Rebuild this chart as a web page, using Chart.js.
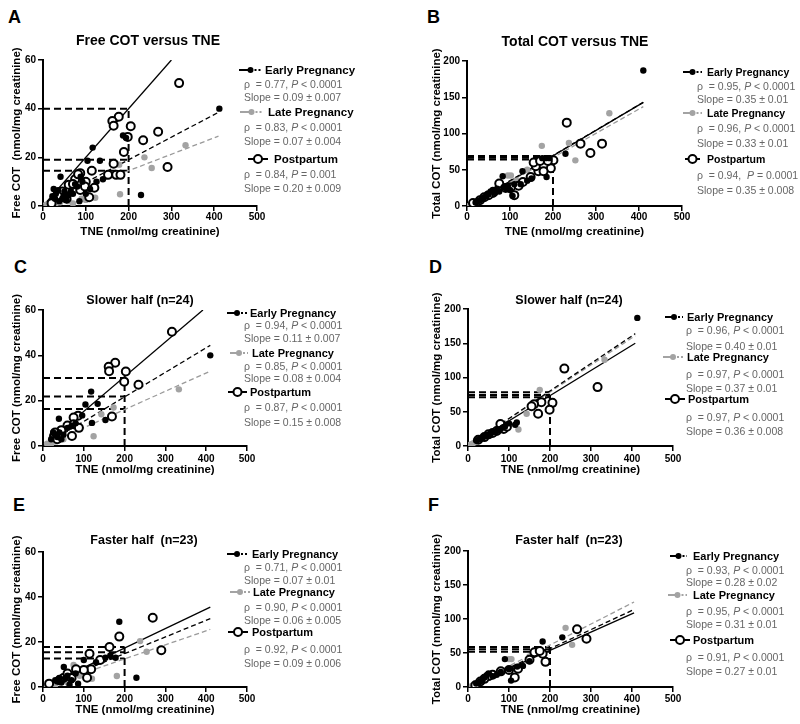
<!DOCTYPE html>
<html lang="en">
<head>
<meta charset="UTF-8">
<title>COT versus TNE</title>
<script src="https://cdn.jsdelivr.net/npm/chart.js"></script>
<style>
  body { margin: 0; background: #fff; font-family: "Liberation Sans", Arial, sans-serif; }
  #fig { position: relative; width: 800px; height: 724px; overflow: hidden; }
  .box { position: absolute; }
  .letter { position: absolute; font-size: 18px; font-weight: bold; line-height: 1; }
  .ptitle { position: absolute; font-weight: bold; white-space: pre; transform: translateX(-50%); line-height: 16px; }
  .lg { position: absolute; white-space: pre; line-height: 14px; }
  .head { font-weight: bold; color: #000; }
  .stat { font-size: 10.5px; color: #666; }
  #icons { position: absolute; left: 0; top: 0; }
</style>
</head>
<body>
<div id="fig"></div>
<script>
const FAMILY = '"Liberation Sans", Arial, sans-serif';

const groups = ['Early Pregnancy', 'Late Pregnancy', 'Postpartum'];
const xTicks = [0, 100, 200, 300, 400, 500];
const freeTicks = [0, 20, 40, 60];
const totalTicks = [0, 50, 100, 150, 200];
const tneRef = 200;

// A: free COT, all subjects
const aEarly = [[412,40],[229,4.5],[116,24],[187,29],[194,28],[133,18.6],[104,18.6],[41,12],[125,10],[92,10],[80,8],[70,5],[60,4.5],[50,6],[45,3],[38,2],[30,5],[25,7],[22,4],[35,6.5],[55,2.5],[65,6],[85,2],[100,5],[110,7],[88,12],[75,9],[28,3],[48,4],[140,11]];
const aLate = [[333,25],[237,20],[254,15.6],[180,4.8],[122,3.4],[178,17],[60,2],[40,1.5],[90,3],[70,1],[30,1],[100,2.5],[50,2.8],[8,0.5],[20,0.5]];
const aPost = [[318,50.5],[177,36.7],[162,34.9],[165,33],[205,32.8],[198,28.4],[269,30.5],[234,27],[189,22.2],[291,16],[165,17.4],[152,12.8],[171,12.8],[181,12.8],[114,14.5],[87,13.5],[108,3.6],[87,6.6],[20,1.1],[60,8.7],[100,10],[75,11],[45,6],[35,4],[55,3],[70,9],[82,13],[98,8],[120,7.5]];
const aFits = [[[0,0.4],[410,38.5]], [[0,1],[410,28.7]], [[0,0],[300,60]]];
const aRef = [40, 19, 14.5];
const aRho = ['0.77, <i>P</i> < 0.0001', '0.83, <i>P</i> < 0.0001', '0.84, <i>P</i> = 0.001'];
const aSlope = ['0.09 ± 0.007', '0.07 ± 0.004', '0.20 ± 0.009'];

// B: total COT, all subjects
const bEarly = [[410,187],[229,72],[185,40],[175,66],[183,66],[192,66],[129,48],[83,41],[106,14],[125,30],[100,22],[90,25],[75,20],[65,18],[55,20],[50,16],[45,14],[40,12],[35,10],[30,8],[25,7],[20,5],[60,22],[70,24],[110,30],[140,35],[150,38],[85,26],[95,28]];
const bLate = [[331,128],[237,87],[252,63],[174,83],[102,42],[95,42],[160,60],[140,50],[60,20],[40,12],[25,6],[10,2],[80,28],[115,35],[200,65],[5,0]];
const bPost = [[232,115],[264,86],[314,86],[287,73],[201,63],[195,52],[166,48],[178,48],[160,55],[155,60],[148,40],[110,15],[102,26],[75,31],[14,4],[170,62],[188,62],[120,28],[130,33],[90,25],[60,18],[50,15],[40,12],[30,8]];
const bFits = [[[0,0],[410,143]], [[0,0],[410,137]], [[0,-1],[410,143]]];
const bRef = [69, 66.5, 64];
const bRho = ['0.95, <i>P</i> < 0.0001', '0.96, <i>P</i> < 0.0001', '0.94,  <i>P</i> = 0.0001'];
const bSlope = ['0.35 ± 0.01', '0.33 ± 0.01', '0.35 ± 0.008'];

// C: free COT, slower half
const cEarly = [[410,40],[118,24],[104,18.3],[134,18.6],[96,13.5],[39,12],[120,10.2],[153,11.5],[30,5],[25,6],[35,4],[45,3],[50,5],[60,8],[70,9],[80,10],[20,3],[40,6]];
const cLate = [[333,25],[124,4.3],[143,14],[173,17],[20,1],[30,2],[50,3],[10,1]];
const cPost = [[316,50.4],[177,36.7],[161,35],[162,33],[203,32.9],[199,28.4],[234,27],[169,13],[86,13.4],[75,12.6],[75,9.6],[88,8],[71,4.4],[27,4.4],[35,3],[40,5],[60,9],[45,7],[30,6]];
const cFits = [[[0,0],[410,44.4]], [[0,0],[410,33]], [[0,0],[392,60]]];
const cRef = [30, 21.8, 16.3];
const cRho = ['0.94, <i>P</i> < 0.0001', '0.85, <i>P</i> < 0.0001', '0.87, <i>P</i> < 0.0001'];
const cSlope = ['0.11 ± 0.007', '0.08 ± 0.004', '0.15 ± 0.008'];

// D: total COT, slower half
const dEarly = [[413,187],[119,34.4],[100,33],[80,25],[70,22],[60,20],[50,17],[40,14],[30,11],[20,8],[25,9],[35,12],[45,15],[55,18],[65,21],[75,23],[90,28],[115,31]];
const dLate = [[333,126],[175,82],[123,24],[143,47],[90,30],[60,20],[30,10],[15,5],[10,3],[5,2]];
const dPost = [[235,113],[316,86],[206,63],[199,53],[171,47],[179,64],[161,61],[79,32],[87,25],[155,58],[50,17],[40,13],[25,9],[60,19],[70,22],[95,28]];
const dFits = [[[0,0],[408,164]], [[0,0],[408,161]], [[0,0],[408,150]]];
const dRef = [78.5, 74.5, 71];
const dRho = ['0.96, <i>P</i> < 0.0001', '0.97, <i>P</i> < 0.0001', '0.97, <i>P</i> < 0.0001'];
const dSlope = ['0.40 ± 0.01', '0.37 ± 0.01', '0.36 ± 0.008'];

// E: free COT, faster half
const eEarly = [[187,29],[229,4.1],[178,13],[153,13],[100,12],[51,8.9],[86,1.5],[130,11],[165,14],[40,4],[30,3],[60,5],[70,3],[80,6],[45,2],[55,4],[35,2.5],[65,1]];
const eLate = [[238,20.4],[254,15.7],[181,4.9],[120,3.7],[75,9.8],[50,3],[30,1],[90,5],[10,0.5],[60,2]];
const ePost = [[269,30.8],[187,22.4],[290,16.3],[163,17.8],[114,14.8],[118,7.9],[108,4.1],[100,7.6],[81,7.9],[15,1.5],[50,4],[40,3],[60,6],[70,4],[140,12]];
const eFits = [[[0,0],[410,30.4]], [[0,0],[410,25.6]], [[0,0],[410,35.5]]];
const eRef = [17.8, 15.5, 12.7];
const eRho = ['0.71, <i>P</i> < 0.0001', '0.90, <i>P</i> < 0.0001', '0.92, <i>P</i> < 0.0001'];
const eSlope = ['0.07 ± 0.01', '0.06 ± 0.005', '0.09 ± 0.006'];

// F: total COT, faster half
const fEarly = [[182,67],[230,73],[90,41],[105,9.4],[134,31],[150,38],[120,30],[100,26],[80,22],[70,18],[60,16],[50,20],[45,17],[40,14],[35,10],[30,8],[25,6],[20,5]];
const fLate = [[238,87],[254,62],[106,41],[100,41],[40,12],[30,8],[20,6],[10,2],[150,45],[70,20]];
const fPost = [[266,85],[289,71],[189,37],[162,51],[182,49],[114,14],[122,27],[18,2.5],[100,25],[80,23],[60,18],[50,16],[40,12],[30,8],[175,53],[150,40]];
const fFits = [[[0,0],[405,114]], [[0,0],[405,125]], [[0,0],[405,109]]];
const fRef = [59, 55.5, 52];
const fRho = ['0.93, <i>P</i> < 0.0001', '0.95, <i>P</i> < 0.0001', '0.91, <i>P</i> < 0.0001'];
const fSlope = ['0.28 ± 0.02', '0.31 ± 0.01', '0.27 ± 0.01'];

const panels = [
  { letter: 'A', title: 'Free COT versus TNE', yTitle: 'Free COT  (nmol/mg creatinine)', yTicks: freeTicks,
    early: aEarly, late: aLate, post: aPost, fits: aFits, ref: aRef, rho: aRho, slope: aSlope,
    cl: 43, cr: 257, ct: 60, cb: 206, xty: 232, ytx: 17, xtp: 0,
    lx: 8, ly: 8, tx: 148, ty: 40, tfs: 14, hfs: 11.5,
    hy: [70, 112, 159], hx: [265, 268, 274], ix: [[239, 262], [240, 263], [248, 268]], sx: 244, sy: [[84, 97], [127, 141], [174, 188]] },
  { letter: 'B', title: 'Total COT versus TNE', yTitle: 'Total COT (nmol/mg creatinine)', yTicks: totalTicks,
    early: bEarly, late: bLate, post: bPost, fits: bFits, ref: bRef, rho: bRho, slope: bSlope,
    cl: 467, cr: 682, ct: 61, cb: 206, xty: 232, ytx: 437, xtp: 0,
    lx: 427, ly: 8, tx: 575, ty: 41, tfs: 14, hfs: 10.5,
    hy: [72, 113, 159], hx: [707, 707, 707], ix: [[683, 702], [683, 702], [685, 700]], sx: 697, sy: [[86, 99], [128, 143], [175, 190]] },
  { letter: 'C', title: 'Slower half (n=24)', yTitle: 'Free COT (nmol/mg creatinine)', yTicks: freeTicks,
    early: cEarly, late: cLate, post: cPost, fits: cFits, ref: cRef, rho: cRho, slope: cSlope,
    cl: 43, cr: 247, ct: 310, cb: 446, xty: 470, ytx: 17, xtp: 2,
    lx: 14, ly: 258, tx: 140, ty: 300, tfs: 12.5, hfs: 11,
    hy: [313, 353, 392], hx: [250, 252, 250], ix: [[227, 247], [230, 248], [228, 247]], sx: 244, sy: [[325, 338], [366, 378], [407, 422]] },
  { letter: 'D', title: 'Slower half (n=24)', yTitle: 'Total COT (nmol/mg creatinine)', yTicks: totalTicks,
    early: dEarly, late: dLate, post: dPost, fits: dFits, ref: dRef, rho: dRho, slope: dSlope,
    cl: 468, cr: 673, ct: 309, cb: 446, xty: 470, ytx: 437, xtp: 2,
    lx: 429, ly: 258, tx: 569, ty: 300, tfs: 12.5, hfs: 11,
    hy: [317, 357, 399], hx: [687, 687, 688], ix: [[665, 683], [663, 683], [665, 685]], sx: 686, sy: [[330, 346], [374, 388], [417, 431]] },
  { letter: 'E', title: 'Faster half  (n=23)', yTitle: 'Free COT (nmol/mg creatinine)', yTicks: freeTicks,
    early: eEarly, late: eLate, post: ePost, fits: eFits, ref: eRef, rho: eRho, slope: eSlope,
    cl: 43, cr: 247, ct: 552, cb: 687, xty: 710, ytx: 17, xtp: 1,
    lx: 13, ly: 496, tx: 144, ty: 540, tfs: 12.5, hfs: 11,
    hy: [554, 592, 632], hx: [252, 253, 252], ix: [[227, 247], [230, 250], [228, 248]], sx: 244, sy: [[567, 580], [607, 620], [649, 663]] },
  { letter: 'F', title: 'Faster half  (n=23)', yTitle: 'Total COT (nmol/mg creatinine)', yTicks: totalTicks,
    early: fEarly, late: fLate, post: fPost, fits: fFits, ref: fRef, rho: fRho, slope: fSlope,
    cl: 468, cr: 673, ct: 551, cb: 687, xty: 710, ytx: 437, xtp: 1,
    lx: 428, ly: 496, tx: 569, ty: 540, tfs: 12.5, hfs: 11,
    hy: [556, 595, 640], hx: [693, 693, 693], ix: [[670, 687], [668, 687], [670, 690]], sx: 686, sy: [[570, 582], [611, 624], [657, 671]] }
];

const fig = document.getElementById('fig');
const toPts = arr => arr.map(([x, y]) => ({ x, y }));

function addDiv(cls, left, top, html, extra) {
  const d = document.createElement('div');
  d.className = cls;
  d.style.left = left + 'px';
  d.style.top = top + 'px';
  if (extra) Object.assign(d.style, extra);
  d.innerHTML = html;
  fig.appendChild(d);
  return d;
}

function drawPanel(p) {
  const L = p.cl - 43, top = p.ct - 20, bottom = p.xty + 7;
  const W = p.cr - L + 40, H = bottom - top;
  const wrap = document.createElement('div');
  wrap.className = 'box';
  wrap.style.cssText = `left:${L}px;top:${top}px;width:${W}px;height:${H}px`;
  const cv = document.createElement('canvas');
  wrap.appendChild(cv);
  fig.appendChild(wrap);

  const yMax = p.yTicks[p.yTicks.length - 1];
  const yStep = p.yTicks[1] - p.yTicks[0];
  const lineSet = (pts, color, width, dash, order) => ({
    type: 'scatter', data: toPts(pts), showLine: true, pointRadius: 0,
    borderColor: color, borderWidth: width, borderDash: dash, order
  });

  const datasets = [];
  // dashed guide lines at TNE = 200
  p.ref.forEach(v => datasets.push(lineSet([[0, v], [tneRef, v]], '#000', 2, [7, 4], 10)));
  datasets.push(lineSet([[tneRef, 0], [tneRef, Math.max(...p.ref)]], '#000', 2, [7, 4], 10));
  // regression lines
  datasets.push(lineSet(p.fits[0], '#000', 1.3, [5, 3], 8));
  datasets.push(lineSet(p.fits[1], '#9a9a9a', 1.3, [5, 3], 8));
  datasets.push(lineSet(p.fits[2], '#000', 1.3, [], 8));
  // points
  datasets.push({ data: toPts(p.late), backgroundColor: '#a3a3a3', borderColor: '#a3a3a3', borderWidth: 0, pointRadius: 3.2, order: 3 });
  datasets.push({ data: toPts(p.post), backgroundColor: '#fff', borderColor: '#000', borderWidth: 2, pointRadius: 4, order: 2 });
  datasets.push({ data: toPts(p.early), backgroundColor: '#000', borderColor: '#000', borderWidth: 0, pointRadius: 3.2, order: 1 });

  const tickFont = { size: 10, weight: 'bold', family: FAMILY };
  const titleFont = { size: 11.5, weight: 'bold', family: FAMILY };
  const gridOpts = { display: true, drawOnChartArea: false, drawTicks: true, tickLength: 5, color: '#000', lineWidth: 1.5 };

  new Chart(cv, {
    type: 'scatter',
    data: { datasets },
    options: {
      responsive: true,
      maintainAspectRatio: false,
      animation: false,
      layout: { padding: { top: 20, right: 40, left: 0, bottom: 0 } },
      plugins: { legend: { display: false }, tooltip: { enabled: false } },
      scales: {
        x: {
          type: 'linear', min: xTicks[0], max: xTicks[xTicks.length - 1],
          ticks: { stepSize: xTicks[1] - xTicks[0], padding: p.xtp, color: '#000', font: tickFont, maxRotation: 0 },
          grid: gridOpts,
          border: { display: true, color: '#000', width: 2 },
          title: { display: true, text: 'TNE (nmol/mg creatinine)', color: '#000', font: titleFont, padding: 0 },
          afterFit: s => { s.height = bottom - p.cb; }
        },
        y: {
          type: 'linear', min: p.yTicks[0], max: yMax,
          ticks: { stepSize: yStep, padding: 2, color: '#000', font: tickFont },
          grid: gridOpts,
          border: { display: true, color: '#000', width: 2 },
          title: { display: true, text: p.yTitle, color: '#000', font: titleFont, padding: { top: p.ytx - 6.9 - L, bottom: 0 } },
          afterFit: s => { s.width = p.cl - L; }
        }
      }
    }
  });

  // letter and title
  addDiv('letter', p.lx, p.ly, p.letter);
  addDiv('ptitle', p.tx, p.ty - 8, p.title, { fontSize: p.tfs + 'px' });

  // legend text
  for (let i = 0; i < 3; i++) {
    addDiv('lg head', p.hx[i], p.hy[i] - 7, groups[i], { fontSize: p.hfs + 'px' });
    addDiv('lg stat', p.sx, p.sy[i][0] - 7, 'ρ  = ' + p.rho[i]);
    addDiv('lg stat', p.sx, p.sy[i][1] - 7, 'Slope = ' + p.slope[i]);
  }
}

panels.forEach(drawPanel);

// legend symbols
const NS = 'http://www.w3.org/2000/svg';
const svg = document.createElementNS(NS, 'svg');
svg.setAttribute('id', 'icons');
svg.setAttribute('width', 800);
svg.setAttribute('height', 724);
function el(name, attrs) {
  const e = document.createElementNS(NS, name);
  for (const k in attrs) e.setAttribute(k, attrs[k]);
  svg.appendChild(e);
}
panels.forEach(p => {
  for (let i = 0; i < 3; i++) {
    const [x1, x2] = p.ix[i];
    const y = p.hy[i];
    const mid = (x1 + x2) / 2;
    const col = i === 1 ? '#a3a3a3' : '#000';
    if (i === 2) {
      el('line', { x1, y1: y, x2, y2: y, stroke: '#000', 'stroke-width': 2 });
      el('circle', { cx: mid, cy: y, r: 4, fill: '#fff', stroke: '#000', 'stroke-width': 2 });
    } else {
      el('line', { x1, y1: y, x2: mid, y2: y, stroke: col, 'stroke-width': 2 });
      el('line', { x1: mid + 4, y1: y, x2, y2: y, stroke: col, 'stroke-width': 2, 'stroke-dasharray': '2,2' });
      el('circle', { cx: mid, cy: y, r: 3, fill: col });
    }
  }
});
fig.appendChild(svg);
</script>
</body>
</html>
